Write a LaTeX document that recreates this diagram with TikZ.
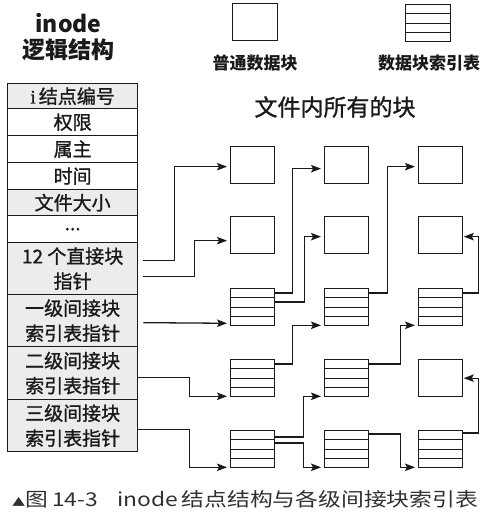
\documentclass[tikz,border=0pt]{standalone}
\usepackage{fontspec}
\setmainfont{Noto Sans CJK SC}
\newfontfamily\cjkmed{Noto Sans CJK SC}[FakeBold=1.2]
\newfontfamily\serifi{Liberation Serif}[FakeBold=1.2]
\usetikzlibrary{arrows.meta,calc}
\definecolor{ink}{HTML}{1A1A1A}
\definecolor{shade}{HTML}{ECECEC}
\definecolor{captxt}{HTML}{303030}
\begin{document}
\begin{tikzpicture}[x=1pt,y=1pt,
  row/.style={draw=ink, line width=1.3pt, anchor=north west, minimum width=130pt, inner sep=0pt, align=center, font=\cjkmed\fontsize{19}{25}\selectfont, text=ink},
  shd/.style={fill=shade},
  blk/.style={draw=ink, line width=1.3pt, minimum width=44pt, minimum height=37pt, inner sep=0pt, anchor=north west},
  arr/.style={draw=ink, line width=1.3pt, -{Stealth[length=10pt,width=7.5pt,inset=2pt]}, shorten >=3pt},
  arrl/.style={arr, shorten >=0.5pt},
  lbl/.style={font=\bfseries\fontsize{17}{17}\selectfont, text=ink},
]
\fill[white] (0,0) rectangle (500,-514);
\useasboundingbox (0,0) rectangle (500,-514);

% titles
\node[font=\bfseries\fontsize{23}{23}\selectfont, text=ink] (ti) at (68.5,-23) {inode};
\node[font=\bfseries\fontsize{23}{23}\selectfont, text=ink] (tj) at (69,-50) {逻辑结构};

% legend
\node[blk, minimum width=45pt] (lp) at (232,-3) {};
\node[blk, minimum width=45pt] (li) at (405,-4) {};
\node[lbl] (lpt) at (255,-63) {普通数据块};
\node[lbl] (lit) at (429,-63) {数据块索引表};
\node[font=\cjkmed\fontsize{23}{23}\selectfont, text=ink] (all) at (335,-107) {文件内所有的块};

% inode table
\node[row,shd,minimum height=25pt] (t1) at (7,-83) {{\serifi i}\,结点编号};
\node[row,minimum height=27pt] (t2) at (7,-108) {权限};
\node[row,minimum height=27pt] (t3) at (7,-135) {属主};
\node[row,minimum height=27pt] (t4) at (7,-162) {时间};
\node[row,shd,minimum height=26pt] (t5) at (7,-189) {文件大小};
\node[row,minimum height=27pt] (t6) at (7,-215) {...};
\node[row,shd,minimum height=52pt] (t7) at (7,-242) {12 个直接块\\指针};
\node[row,shd,minimum height=52pt] (t8) at (7,-294) {一级间接块\\索引表指针};
\node[row,shd,minimum height=53pt] (t9) at (7,-346) {二级间接块\\索引表指针};
\node[row,shd,minimum height=52pt] (t10) at (7,-399) {三级间接块\\索引表指针};

% blocks
\node[blk] (b11) at (230,-146) {};
\node[blk] (b12) at (324,-146) {};
\node[blk] (b13) at (418,-146) {};
\node[blk] (b21) at (230,-216) {};
\node[blk] (b22) at (324,-216) {};
\node[blk] (b23) at (418,-216) {};
\node[blk] (b31) at (230,-288) {};
\node[blk] (b32) at (324,-288) {};
\node[blk] (b33) at (418,-288) {};
\node[blk] (b41) at (230,-359) {};
\node[blk] (b42) at (324,-359) {};
\node[blk] (b43) at (418,-359) {};
\node[blk] (b51) at (230,-430) {};
\node[blk] (b52) at (324,-430) {};
\node[blk] (b53) at (418,-430) {};

% rows of the index tables
\foreach \n in {li,b31,b32,b33,b41,b42,b51,b52,b53}{
  \foreach \k in {1,2,3}{
    \draw[ink, line width=1.3pt] ($(\n.north west)!\k/4!(\n.south west)$) -- ($(\n.north east)!\k/4!(\n.south east)$);
  }
}

% connectors from the inode table
\draw[arr] ([shift={(5pt,8pt)}]t7.east) -- ++(31pt,0) |- ([yshift=-1.5pt]b11.west);
\draw[arr] ([shift={(5pt,-8pt)}]t7.east) -- ++(51pt,0) |- ([yshift=-5.5pt]b21.west);
\draw[arr] ([shift={(5pt,-2pt)}]t8.east) -- ([yshift=3pt]b31.south west);
\draw[arr] ([yshift=-4.5pt]t9.east) -- ++(51pt,0) |- ([yshift=1pt]b41.south west);
\draw[arr] ([yshift=-4pt]t10.east) -- ++(51pt,0) |- ([yshift=1pt]b51.south west);

% column 1 to column 2
\draw[arr] ([yshift=-5pt]b31.north east) -- ++(17pt,0) |- ([yshift=-3.5pt]b12.west);
\draw[arr] ([yshift=-14pt]b31.north east) -- ++(29pt,0) |- ([yshift=-1.5pt]b22.west);
\draw[arr] ([yshift=-5pt]b41.north east) -- ++(17pt,0) |- ([yshift=1pt]b32.south west);
\draw[arr] ([yshift=-7pt]b51.north east) -- ++(28pt,0) |- ([yshift=1pt]b42.south west);
\draw[arr] ([yshift=-13pt]b51.north east) -- ++(28pt,0) |- ([yshift=1pt]b52.south west);

% column 2 to column 3
\draw[arr] ([yshift=-5pt]b32.north east) -- ++(18pt,0) |- ([yshift=-1.5pt]b13.west);
\draw[arr] ([yshift=-5pt]b42.north east) -- ++(31pt,0) |- ([yshift=1pt]b33.south west);
\draw[arr] ([yshift=-4pt]b52.north east) -- ++(31pt,0) |- ([yshift=1pt]b53.south west);

% column 3 back into column 3
\draw[arrl] ([yshift=-5pt]b33.north east) -- ++(15pt,0) |- ([yshift=-1.5pt]b23.east);
\draw[arrl] ([yshift=-3pt]b53.north east) -- ++(15pt,0) |- (b43.east);

% caption
\node[anchor=west, font=\fontsize{19}{19}\selectfont, text=captxt, xscale=1.2, transform shape, inner sep=0pt] (cap) at (12,-499)
  {{\fontsize{11}{11}\selectfont ▲}图\,14-3\hspace{16pt}inode\,结点结构与各级间接块索引表};
\end{tikzpicture}
\end{document}
